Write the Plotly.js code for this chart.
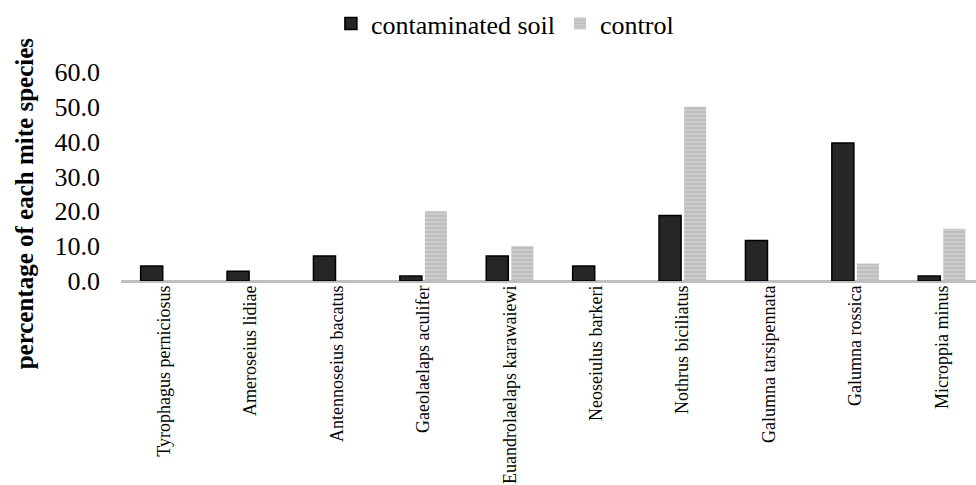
<!DOCTYPE html>
<html>
<head>
<meta charset="utf-8">
<script src="https://cdn.plot.ly/plotly-3.0.1.min.js"></script>
<style>html,body{margin:0;padding:0;background:#fff;}#chart{width:976px;height:485px;}</style>
</head>
<body>
<div id="chart"></div>
<script>
var species = ["Tyrophagus perniciosus", "Ameroseius lidiae", "Antennoseius bacatus", "Gaeolaelaps aculifer", "Euandrolaelaps karawaiewi", "Neoseiulus barkeri", "Nothrus biciliatus", "Galumna tarsipennata", "Galumna rossica", "Microppia minus"];
var contaminated = [4.3, 2.8, 7.2, 1.4, 7.2, 4.3, 18.8, 11.6, 39.6, 1.4];
var control = [0, 0, 0, 20, 10, 0, 50, 0, 5, 15];
var yTicks = [0, 10, 20, 30, 40, 50, 60];
var yTitle = "percentage of each mite species";

var font = "Liberation Serif";
var traces = [
  {type: "bar", name: "contaminated soil", x: species, y: contaminated,
   marker: {color: "#262626", line: {color: "#000000", width: 1.5}}},
  {type: "bar", name: "control", x: species, y: control,
   marker: {color: "#c6c6c6", line: {width: 0},
            pattern: {shape: "-", fgcolor: "#e2e2e2", bgcolor: "#bebebe", size: 4, solidity: 0.4, fillmode: "overlay"}}}
];
var layout = {
  width: 976, height: 485,
  margin: {l: 121, r: 0, t: 71, b: 204},
  paper_bgcolor: "#fff", plot_bgcolor: "#fff",
  font: {family: font, color: "#000"},
  barmode: "group", bargap: 0.42, bargroupgap: 0.12,
  showlegend: true,
  legend: {orientation: "h", x: 0.449, xanchor: "center", y: 1.233, yanchor: "middle",
           font: {family: font, size: 26, color: "#000"}, itemwidth: 30, tracegroupgap: 0},
  xaxis: {type: "category", range: [-0.5, 9.396], tickangle: -90, ticks: "",
          tickfont: {family: font, size: 18, color: "#000"},
          showline: false, showgrid: false, zeroline: false},
  yaxis: {range: [0, 60], tickvals: yTicks, tickformat: ".1f", showgrid: false,
          zeroline: true, zerolinecolor: "#bfbfbf", zerolinewidth: 3,
          showline: false, ticks: "", ticklabelstandoff: 20,
          tickfont: {family: font, size: 26, color: "#000"}},
  annotations: [{text: "<b>" + yTitle + "</b>", textangle: -90, showarrow: false,
                 xref: "paper", yref: "paper", x: (24 - 121) / 855, y: (281 - 203) / 210,
                 xanchor: "center", yanchor: "middle",
                 font: {family: font, size: 25, color: "#000"}}]
};
Plotly.newPlot("chart", traces, layout, {displayModeBar: false, staticPlot: true});
</script>
</body>
</html>
